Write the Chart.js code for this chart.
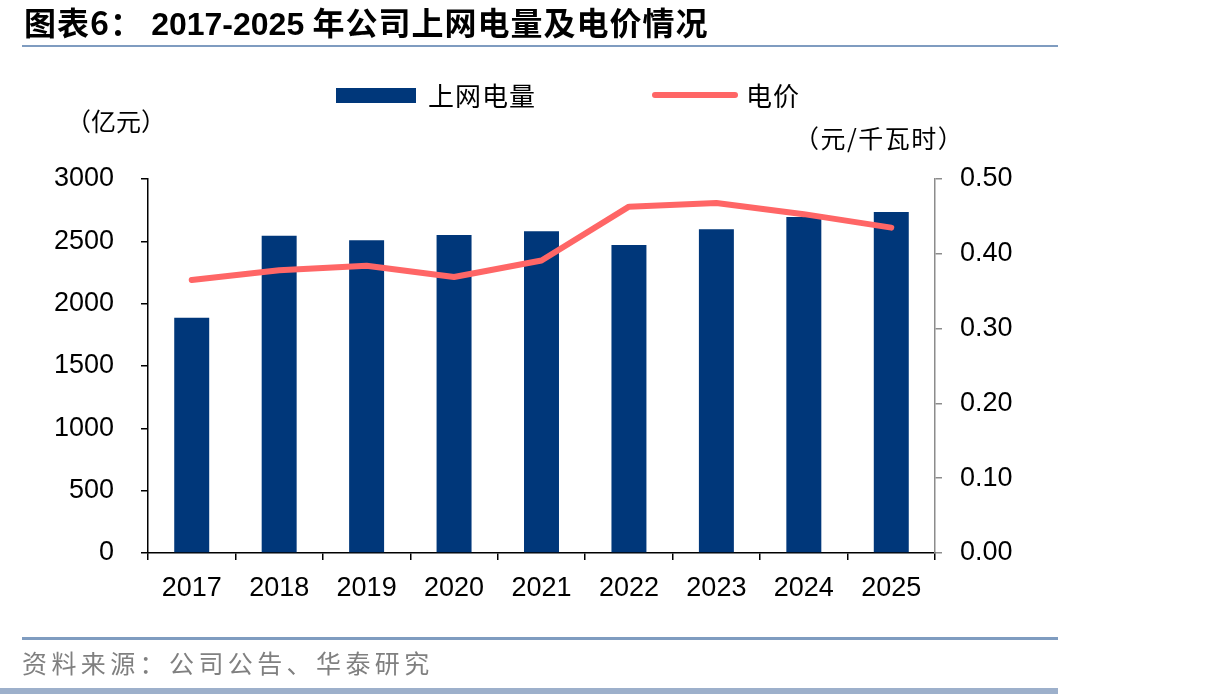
<!DOCTYPE html>
<html>
<head>
<meta charset="utf-8">
<script src="https://cdn.jsdelivr.net/npm/chart.js@4.4.1/dist/chart.umd.min.js"></script>
<style>
    body { margin: 0; background: #fff; }
    #wrap { position: relative; width: 1206px; height: 694px; overflow: hidden; font-family: "Noto Sans CJK SC", "Liberation Sans", sans-serif; }
    #wrap canvas { position: absolute; left: 0; top: 0; }
    .txt { position: absolute; white-space: nowrap; line-height: 1; }
    #title { left: 24px; top: 5px; font-size: 32px; font-weight: bold; color: #000; letter-spacing: 1px; }
    #title .num { font-family: "Liberation Sans", Arial, sans-serif; letter-spacing: 0; }
    .rule { position: absolute; left: 22px; width: 1036px; background: #7f9cc0; }
    #source { left: 22px; top: 650px; font-size: 25px; color: #808080; letter-spacing: 4.4px; }
    .unit { font-size: 25px; color: #000; }
    #legend { position: absolute; left: 336px; top: 80px; height: 30px; }
    .lg-item { position: absolute; top: 0; white-space: nowrap; font-size: 26px; line-height: 30px; letter-spacing: 1px; }
    .lg-sw { position: absolute; }
</style>
</head>
<body>
<div id="wrap">
    <canvas id="statsChart" width="1206" height="694"></canvas>
    <div class="txt" id="title">图表6：&nbsp;<span class="num">2017-2025</span> 年公司上网电量及电价情况</div>
    <div class="rule" style="top:45px;height:2px;"></div>
    <div id="legend"></div>
    <div class="txt unit" style="left:66px;top:108px;">（亿元）</div>
    <div class="txt unit" style="left:794px;top:125px;letter-spacing:1.5px;">（元/千瓦时）</div>
    <div class="rule" style="top:637px;height:3px;"></div>
    <div class="txt" id="source">资料来源：公司公告、华泰研究</div>
    <div class="rule" style="left:0;top:688px;height:6px;width:1058px;background:#9db0cb;"></div>
</div>

<script>
// ----- DATA -----
const years = ["2017", "2018", "2019", "2020", "2021", "2022", "2023", "2024", "2025"];
const gridPower = [1887, 2545, 2508, 2551, 2580, 2470, 2596, 2695, 2735];   // 上网电量（亿元）
const powerPrice = [0.365, 0.378, 0.384, 0.369, 0.391, 0.463, 0.468, 0.453, 0.435]; // 电价（元/千瓦时）
const leftTicks = [0, 500, 1000, 1500, 2000, 2500, 3000];
const rightTicks = [0.00, 0.10, 0.20, 0.30, 0.40, 0.50];

const barColor = "#00377a";
const lineColor = "#ff6666";
const tickFont = { family: "Liberation Sans, Arial, sans-serif", size: 27 };

// ----- CHART -----
const ctx = document.getElementById("statsChart").getContext("2d");

const chart = new Chart(ctx, {
    type: "bar",
    data: {
        labels: years,
        datasets: [
            {
                type: "line",
                label: "电价",
                data: powerPrice,
                yAxisID: "y1",
                borderColor: lineColor,
                backgroundColor: lineColor,
                borderWidth: 6,
                pointRadius: 0,
                tension: 0,
                borderCapStyle: "round",
                borderJoinStyle: "round",
                order: 0
            },
            {
                label: "上网电量",
                data: gridPower,
                yAxisID: "y",
                backgroundColor: barColor,
                borderWidth: 0,
                barPercentage: 0.4,
                categoryPercentage: 1,
                order: 1
            }
        ]
    },
    options: {
        responsive: false,
        animation: false,
        layout: { padding: { top: 179, left: 0, right: 0, bottom: 0 } },
        plugins: { legend: { display: false }, tooltip: { enabled: false } },
        scales: {
            x: {
                grid: { offset: true, drawOnChartArea: false, drawTicks: true, tickLength: 7, color: "#000", lineWidth: 1.5 },
                border: { color: "#000", width: 1.5 },
                ticks: { color: "#000", font: tickFont, padding: 12, maxRotation: 0 },
                afterFit: s => { s.height = 694 - 553; }
            },
            y: {
                position: "left",
                min: 0,
                max: 3000,
                afterBuildTicks: s => { s.ticks = leftTicks.map(v => ({ value: v })); },
                grid: { drawOnChartArea: false, drawTicks: true, tickLength: 7, color: "#000", lineWidth: 1.5 },
                border: { color: "#000", width: 1.5 },
                ticks: { color: "#000", font: tickFont, padding: 27, callback: v => String(v) },
                afterFit: s => { s.width = 148; }
            },
            y1: {
                position: "right",
                min: 0,
                max: 0.5,
                afterBuildTicks: s => { s.ticks = rightTicks.map(v => ({ value: v })); },
                grid: { drawOnChartArea: false, drawTicks: true, tickLength: 7, color: "#8c8c8c", lineWidth: 1.5 },
                border: { color: "#8c8c8c", width: 1.5 },
                ticks: { color: "#000", font: tickFont, padding: 18, callback: v => Number(v).toFixed(2) },
                afterFit: s => { s.width = 1206 - 935; }
            }
        }
    }
});

// ----- LEGEND (from datasets) -----
const legend = document.getElementById("legend");
const legendPos = { "上网电量": 0, "电价": 316 };
[chart.data.datasets[1], chart.data.datasets[0]].forEach(ds => {
    const item = document.createElement("div");
    item.className = "lg-item";
    item.style.left = legendPos[ds.label] + "px";
    const sw = document.createElement("div");
    sw.className = "lg-sw";
    if (ds.type === "line") {
        sw.style.cssText = "left:0;top:12px;width:86px;height:6px;border-radius:3px;background:" + ds.borderColor;
    } else {
        sw.style.cssText = "left:0;top:8px;width:80px;height:15px;background:" + ds.backgroundColor;
    }
    const label = document.createElement("span");
    label.textContent = ds.label;
    label.style.cssText = "position:absolute;top:0;left:" + (ds.type === "line" ? 94 : 92) + "px;";
    item.appendChild(sw);
    item.appendChild(label);
    legend.appendChild(item);
});
</script>
</body>
</html>
